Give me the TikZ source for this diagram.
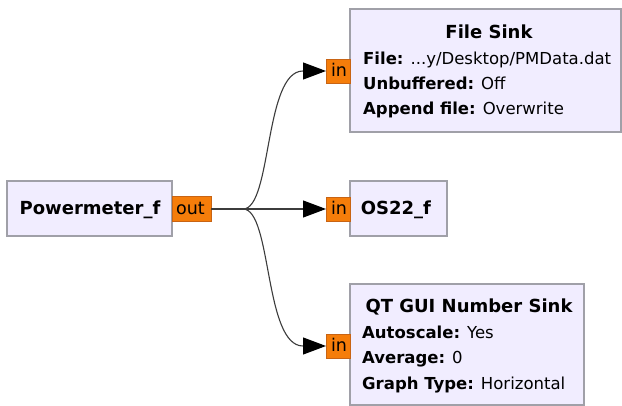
\documentclass[tikz,border=0pt]{standalone}
\usepackage{fontspec}
\setmainfont{DejaVu Sans}
\usetikzlibrary{arrows.meta}
\definecolor{blockfill}{RGB}{241,237,255}
\definecolor{blockline}{RGB}{160,160,168}
\definecolor{portfill}{RGB}{245,125,10}
\definecolor{portline}{RGB}{200,100,20}
\definecolor{wire}{RGB}{60,60,60}
\tikzset{
  block/.style={draw=blockline, fill=blockfill, line width=1.2pt},
  port/.style={draw=portline, fill=portfill, line width=0.6pt},
  txt/.style={inner sep=0pt, anchor=base west, font=\fontsize{16.5}{19}\selectfont},
  ttl/.style={inner sep=0pt, anchor=base, font=\fontsize{18}{21}\selectfont\bfseries},
  plbl/.style={inner sep=0pt, anchor=base, font=\fontsize{17.5}{20}\selectfont},
  conn/.style={draw=wire, line width=1.1pt},
  tip/.style={-{Triangle[length=23pt,width=17pt,color=black]}}
}
\begin{document}
\begin{tikzpicture}[x=1pt,y=-1pt]
\useasboundingbox[fill=white] (0,0) rectangle (622,406);

% Blocks
\path[block] (7,181) rectangle (172,236);
\node[ttl] (srcname) at (90,215) {Powermeter\_f};

\path[block] (350,9) rectangle (621,132);
\node[ttl] (fstitle) at (489,39) {File Sink};
\node[txt] (fs1) at (363,64.5) {\textbf{File:} ...y/Desktop/PMData.dat};
\node[txt] (fs2) at (363,90) {\textbf{Unbuffered:} Off};
\node[txt] (fs3) at (363,115) {\textbf{Append file:} Overwrite};

\path[block] (350,181) rectangle (447,236);
\node[ttl] (osname) at (396,215) {OS22\_f};

\path[block] (350,284) rectangle (584,405);
\node[ttl] (qttitle) at (469,313) {QT GUI Number Sink};
\node[txt] (qt1) at (362,338.5) {\textbf{Autoscale:} Yes};
\node[txt] (qt2) at (362,364) {\textbf{Average:} 0};
\node[txt] (qt3) at (362,389.5) {\textbf{Graph Type:} Horizontal};

% Ports
\path[port] (172,196.5) rectangle (211,221);
\node[plbl] (outlbl) at (190.5,215) {out};
\coordinate (outp) at (211,209);

\path[port] (326,59) rectangle (350,83);
\node[plbl] (in1lbl) at (339,77) {in};
\coordinate (in1) at (326,71);

\path[port] (326,197) rectangle (350,221);
\node[plbl] (in2lbl) at (339,215) {in};
\coordinate (in2) at (326,209);

\path[port] (326,334) rectangle (350,358);
\node[plbl] (in3lbl) at (339,352) {in};
\coordinate (in3) at (326,346);

% Connections
\coordinate (j) at (243,209);
\draw[conn] (outp) -- (j);
\draw[conn,tip] (j) .. controls (272,209) and (264,71) .. (303,71) -- (in1);
\draw[conn,tip] (j) -- (in2);
\draw[conn,tip] (j) .. controls (272,209) and (264,346) .. (303,346) -- (in3);
\end{tikzpicture}
\end{document}
